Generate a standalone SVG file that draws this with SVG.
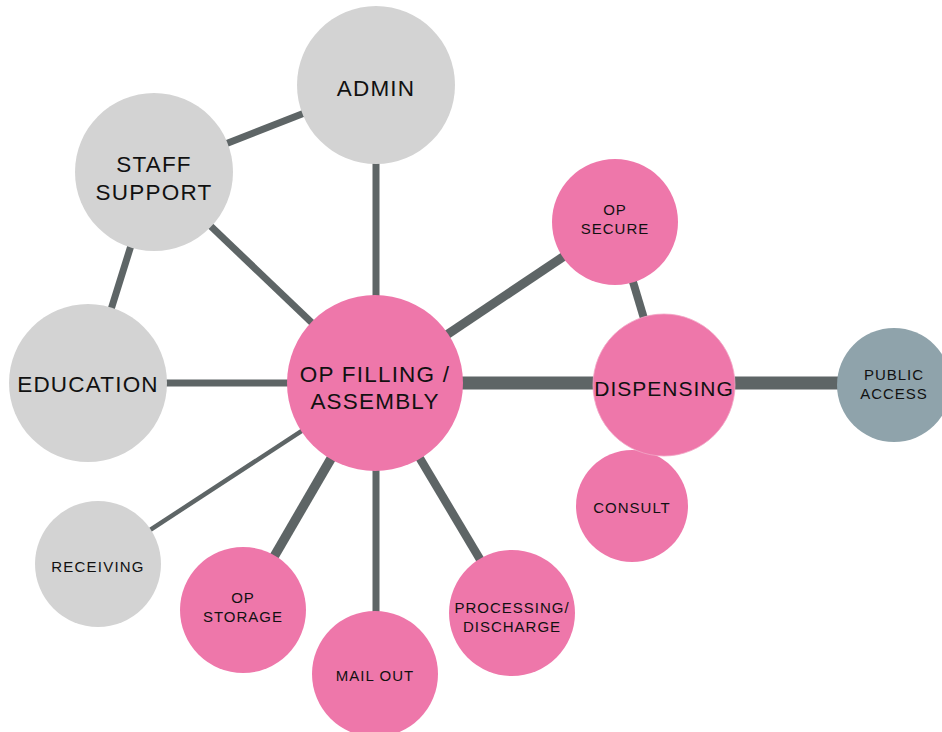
<svg xmlns="http://www.w3.org/2000/svg" width="942" height="732" viewBox="0 0 942 732">
<style>
.edge{stroke:#5e6566;fill:none;stroke-linecap:butt}
.gray{fill:#d3d3d3}
.pink{fill:#ee77aa}
.blue{fill:#8fa3ab}
text{font-family:"Liberation Sans",Arial,sans-serif;fill:#111;text-anchor:middle}
.big{font-size:22.5px;letter-spacing:1.2px}
.small{font-size:15px;letter-spacing:1px}
</style>
<rect width="942" height="732" fill="#ffffff"/>
<g id="connectors">
<line class="edge" x1="154" y1="172" x2="376" y2="85" stroke-width="7"/>
<line class="edge" x1="154" y1="172" x2="88" y2="383" stroke-width="7"/>
<line class="edge" x1="154" y1="172" x2="375" y2="383" stroke-width="7"/>
<line class="edge" x1="376" y1="85" x2="376" y2="383" stroke-width="7"/>
<line class="edge" x1="88" y1="383" x2="375" y2="383" stroke-width="7"/>
<line class="edge" x1="98" y1="564" x2="375" y2="383" stroke-width="4.5"/>
<line class="edge" x1="243" y1="610" x2="375" y2="383" stroke-width="9.5"/>
<line class="edge" x1="376" y1="674" x2="376" y2="383" stroke-width="7"/>
<line class="edge" x1="512" y1="613" x2="375" y2="383" stroke-width="8.5"/>
<line class="edge" x1="615" y1="222" x2="375" y2="383" stroke-width="9"/>
<line class="edge" x1="615" y1="222" x2="664" y2="385" stroke-width="8"/>
<line class="edge" x1="375" y1="383" x2="664" y2="383" stroke-width="13"/>
<line class="edge" x1="664" y1="383" x2="894" y2="383" stroke-width="13"/>
</g>
<g id="admin"><circle class="gray" cx="376" cy="85" r="79"/><text class="big" x="376" y="96">ADMIN</text></g>
<g id="staff-support"><circle class="gray" cx="154" cy="172" r="79"/><text class="big" x="154" y="172">STAFF</text><text class="big" x="154" y="200">SUPPORT</text></g>
<g id="education"><circle class="gray" cx="88" cy="383" r="79"/><text class="big" x="88" y="392">EDUCATION</text></g>
<g id="receiving"><circle class="gray" cx="98" cy="564" r="63"/><text class="small" x="98" y="572" style="letter-spacing:1.2px">RECEIVING</text></g>
<g id="op-storage"><circle class="pink" cx="243" cy="610" r="63"/><text class="small" x="243" y="603">OP</text><text class="small" x="243" y="622">STORAGE</text></g>
<g id="mail-out"><circle class="pink" cx="375" cy="674" r="63"/><text class="small" x="375" y="681">MAIL OUT</text></g>
<g id="processing-discharge"><circle class="pink" cx="512" cy="613" r="63"/><text class="small" x="512" y="613">PROCESSING/</text><text class="small" x="512" y="632">DISCHARGE</text></g>
<g id="op-filling"><circle class="pink" cx="375" cy="383" r="88"/><text class="big" x="375" y="382">OP FILLING /</text><text class="big" x="375" y="409">ASSEMBLY</text></g>
<g id="op-secure"><circle class="pink" cx="615" cy="222" r="63"/><text class="small" x="615" y="215">OP</text><text class="small" x="615" y="234">SECURE</text></g>
<g id="consult"><circle class="pink" cx="632" cy="506" r="56"/><text class="small" x="632" y="513">CONSULT</text></g>
<g id="dispensing"><circle class="pink" cx="664" cy="385" r="71" stroke="#f3a7c6" stroke-width="0.8"/><text class="big" x="664" y="396" style="font-size:21px;letter-spacing:1px">DISPENSING</text></g>
<g id="public-access"><circle class="blue" cx="894" cy="385" r="57"/><text class="small" x="894" y="380">PUBLIC</text><text class="small" x="894" y="399">ACCESS</text></g>
</svg>
